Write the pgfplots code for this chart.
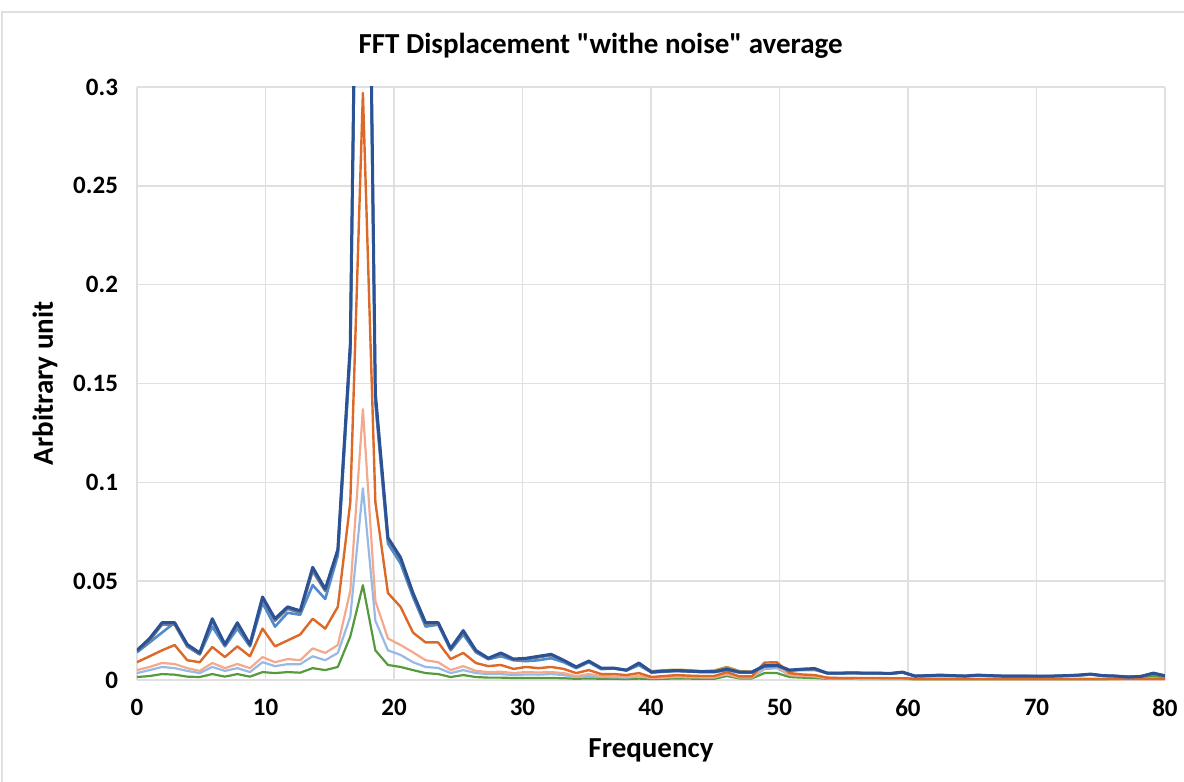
\documentclass[border=0pt]{standalone}
\usepackage{pgfplots}
\usepackage{pgfplotstable}
\pgfplotsset{compat=1.18}
\usepackage{fontspec}
\setmainfont{Carlito}[Ligatures=TeXOff]
\definecolor{cNavy}{RGB}{44,82,150}
\definecolor{cBlue}{RGB}{80,140,205}
\definecolor{cGray}{RGB}{115,125,145}
\definecolor{cOrange}{RGB}{220,105,40}
\definecolor{cSalmon}{RGB}{244,168,140}
\definecolor{cLBlue}{RGB}{150,185,230}
\definecolor{cGreen}{RGB}{85,155,60}
\definecolor{cGold}{RGB}{190,160,50}
\definecolor{cGrid}{RGB}{224,224,224}

\pgfplotstableread{
x A B C D E F G
0 0.015 0.014 0.0145 0.009 0.005 0.0035 0.0015
0.98 0.021 0.019 0.020 0.012 0.0066 0.005 0.002
1.95 0.029 0.024 0.028 0.015 0.0086 0.0066 0.003
2.93 0.029 0.029 0.028 0.0177 0.0081 0.006 0.0027
3.91 0.018 0.017 0.017 0.010 0.006 0.0046 0.0017
4.88 0.0137 0.013 0.013 0.009 0.0046 0.0035 0.0015
5.86 0.031 0.027 0.030 0.0167 0.0086 0.0066 0.003
6.84 0.018 0.017 0.0175 0.0116 0.006 0.0046 0.0017
7.81 0.029 0.026 0.028 0.017 0.0081 0.006 0.003
8.79 0.018 0.017 0.0175 0.012 0.006 0.004 0.0017
9.77 0.042 0.039 0.041 0.026 0.0116 0.009 0.004
10.74 0.031 0.027 0.030 0.017 0.009 0.007 0.0035
11.72 0.037 0.034 0.036 0.020 0.0106 0.008 0.004
12.70 0.035 0.033 0.034 0.023 0.010 0.008 0.0037
13.67 0.057 0.048 0.055 0.031 0.016 0.012 0.006
14.65 0.046 0.041 0.045 0.026 0.0137 0.010 0.005
15.63 0.066 0.063 0.065 0.037 0.0177 0.0137 0.0066
16.60 0.17 0.165 0.168 0.09 0.045 0.032 0.022
17.58 0.65 0.63 0.64 0.297 0.137 0.097 0.048
18.55 0.145 0.14 0.143 0.09 0.04 0.03 0.015
19.53 0.072 0.069 0.071 0.044 0.021 0.015 0.0076
20.51 0.062 0.059 0.061 0.037 0.0177 0.0127 0.0066
21.48 0.044 0.042 0.043 0.024 0.014 0.009 0.005
22.46 0.029 0.027 0.028 0.019 0.010 0.0066 0.0035
23.44 0.029 0.028 0.0285 0.019 0.009 0.0061 0.003
24.41 0.016 0.015 0.0155 0.0106 0.005 0.0035 0.0015
25.39 0.025 0.023 0.024 0.0137 0.007 0.005 0.0025
26.37 0.015 0.014 0.0145 0.0086 0.0046 0.0035 0.0015
27.34 0.011 0.0105 0.011 0.007 0.004 0.003 0.0012
28.32 0.0137 0.012 0.013 0.0076 0.0042 0.003 0.0012
29.30 0.0106 0.010 0.0103 0.0056 0.0035 0.0025 0.001
30.27 0.011 0.0095 0.0105 0.0066 0.004 0.0028 0.001
31.25 0.012 0.010 0.0115 0.006 0.0038 0.0027 0.001
32.23 0.013 0.011 0.0125 0.0066 0.004 0.003 0.001
33.20 0.010 0.009 0.0098 0.0056 0.0035 0.0025 0.0009
34.18 0.0066 0.006 0.0064 0.0035 0.002 0.0015 0.0006
35.16 0.0096 0.009 0.0094 0.005 0.003 0.002 0.0008
36.13 0.006 0.0055 0.0058 0.003 0.002 0.0015 0.0006
37.11 0.006 0.0058 0.006 0.003 0.0018 0.0014 0.0006
38.09 0.005 0.0048 0.005 0.0025 0.0015 0.0012 0.0005
39.06 0.0086 0.0075 0.0083 0.0035 0.002 0.0018 0.0007
40.04 0.004 0.0038 0.004 0.0015 0.001 0.0012 0.0005
41.02 0.0045 0.0042 0.0044 0.002 0.0012 0.0015 0.0006
41.99 0.0048 0.0045 0.0047 0.0025 0.0015 0.0018 0.0008
42.97 0.0045 0.0043 0.0044 0.0022 0.0014 0.0016 0.0007
43.95 0.0042 0.004 0.0041 0.002 0.0013 0.0015 0.0006
44.92 0.0042 0.004 0.0041 0.002 0.0013 0.0015 0.0006
45.90 0.0055 0.005 0.0058 0.004 0.003 0.0028 0.002
46.88 0.004 0.0038 0.004 0.0018 0.0012 0.0014 0.0008
47.85 0.004 0.0038 0.004 0.0018 0.0012 0.0014 0.0008
48.83 0.0072 0.0068 0.0075 0.0088 0.0065 0.0055 0.0035
49.80 0.0075 0.007 0.0076 0.009 0.0068 0.006 0.0035
50.78 0.005 0.0048 0.005 0.0035 0.0025 0.0025 0.0015
51.76 0.0055 0.0052 0.0054 0.0028 0.002 0.0022 0.0012
52.73 0.0058 0.0055 0.0056 0.0025 0.0018 0.002 0.001
53.71 0.0035 0.0034 0.0035 0.0012 0.0008 0.001 0.0006
54.69 0.0035 0.0034 0.0035 0.001 0.0007 0.001 0.0006
55.66 0.0036 0.0035 0.0036 0.001 0.0007 0.001 0.0006
56.64 0.0035 0.0034 0.0035 0.001 0.0006 0.0009 0.0005
57.62 0.0035 0.0034 0.0035 0.001 0.0006 0.0009 0.0005
58.59 0.0033 0.0032 0.0033 0.0009 0.0006 0.0009 0.0005
59.57 0.004 0.0038 0.0039 0.0009 0.0006 0.0009 0.0005
60.55 0.002 0.0019 0.002 0.0006 0.0004 0.0006 0.0004
61.52 0.0022 0.0021 0.0022 0.0006 0.0004 0.0006 0.0004
62.50 0.0025 0.0023 0.0024 0.0006 0.0004 0.0006 0.0004
63.48 0.0022 0.0021 0.0022 0.0005 0.0004 0.0006 0.0004
64.45 0.002 0.0019 0.002 0.0005 0.0004 0.0006 0.0004
65.43 0.0025 0.0023 0.0024 0.0005 0.0004 0.0006 0.0004
66.41 0.0022 0.0021 0.0022 0.0005 0.0004 0.0006 0.0004
67.38 0.002 0.0019 0.002 0.0005 0.0004 0.0006 0.0004
68.36 0.002 0.0019 0.002 0.0005 0.0004 0.0006 0.0004
69.34 0.002 0.0019 0.002 0.0005 0.0004 0.0006 0.0004
70.31 0.0019 0.0018 0.0019 0.0005 0.0004 0.0006 0.0004
71.29 0.002 0.0019 0.002 0.0005 0.0004 0.0006 0.0004
72.27 0.0022 0.0021 0.0022 0.0005 0.0004 0.0006 0.0004
73.24 0.0025 0.0023 0.0024 0.0005 0.0004 0.0006 0.0004
74.22 0.003 0.0028 0.0029 0.0005 0.0004 0.0006 0.0004
75.20 0.0022 0.0021 0.0022 0.0005 0.0004 0.0006 0.0004
76.17 0.002 0.0019 0.002 0.0005 0.0004 0.0006 0.0005
77.15 0.0015 0.0015 0.0015 0.0005 0.0004 0.0006 0.0008
78.13 0.0018 0.0017 0.0018 0.0005 0.0004 0.0007 0.0012
79.10 0.0035 0.0032 0.0034 0.0006 0.0004 0.0008 0.002
80.08 0.002 0.0019 0.002 0.0005 0.0004 0.0006 0.0012
}\datatab

\pgfplotstableread{
x Y
39.06 0.0083
40.04 0.0045
41.02 0.005
41.99 0.0052
42.97 0.005
43.95 0.0045
44.92 0.0048
45.90 0.0066
46.88 0.0045
47.85 0.0042
48.83 0.007
49.80 0.0072
50.78 0.0048
51.76 0.005
52.73 0.005
53.71 0.0035
54.69 0.0034
55.66 0.0035
56.64 0.0034
57.62 0.0034
58.59 0.0032
59.57 0.0038
60.55 0.002
61.52 0.0021
62.50 0.0023
63.48 0.0021
64.45 0.002
65.43 0.0023
66.41 0.0021
67.38 0.002
68.36 0.002
69.34 0.002
70.31 0.0019
71.29 0.002
72.27 0.0021
73.24 0.0023
74.22 0.0028
75.20 0.0021
76.17 0.002
77.15 0.0017
78.13 0.002
79.10 0.0033
80.08 0.002
}\goldtab

\begin{document}
\begin{tikzpicture}
\path[use as bounding box] (-68.5pt,-51pt) rectangle (523.5pt,340pt);
\draw[cGrid, line width=0.8pt] (-67.5pt,-51pt) -- (-67.5pt,334pt) -- (523.5pt,334pt);
\begin{axis}[
  at={(0pt,0pt)}, anchor=south west,
  scale only axis,
  width=514pt, height=296.5pt,
  xmin=0, xmax=80, ymin=0, ymax=0.3,
  xtick={0,10,...,80},
  ytick={0,0.05,0.1,0.15,0.2,0.25,0.3},
  grid=major,
  major grid style={cGrid, line width=0.7pt},
  axis line style={draw=none},
  tick style={draw=none},
  /pgf/number format/assume math mode=true,
  yticklabel style={/pgf/number format/fixed, /pgf/number format/precision=2, font=\fontsize{12.5}{14}\selectfont\bfseries, xshift=-6pt},
  xticklabel style={font=\fontsize{12.5}{14}\selectfont\bfseries, yshift=-6pt},
  title={FFT Displacement "withe noise" average},
  title style={font=\fontsize{14.5}{17}\selectfont\bfseries, at={(axis description cs:0.451,1.049)}, anchor=center},
  xlabel={Frequency},
  xlabel style={font=\fontsize{14.5}{17}\selectfont\bfseries, at={(axis description cs:0.5,-0.118)}, anchor=center},
  ylabel={Arbitrary unit},
  ylabel style={font=\fontsize{14.5}{17}\selectfont\bfseries, at={(axis description cs:-0.0895,0.5)}, anchor=center},
  every axis plot/.append style={line join=round},
]
\addplot[cGreen, line width=1.1pt] table[x=x, y=G] {\datatab};
\addplot[cLBlue, line width=1.1pt] table[x=x, y=F] {\datatab};
\addplot[cSalmon, line width=1.1pt] table[x=x, y=E] {\datatab};
\addplot[cOrange, line width=1.2pt] table[x=x, y=D] {\datatab};
\addplot[cGold, line width=1.2pt] table[x=x, y=Y] {\goldtab};
\addplot[cBlue, line width=1.3pt] table[x=x, y=B] {\datatab};
\addplot[cGray, line width=1.3pt] table[x=x, y=C] {\datatab};
\addplot[cNavy, line width=1.5pt] table[x=x, y=A] {\datatab};
\end{axis}
\end{tikzpicture}
\end{document}
